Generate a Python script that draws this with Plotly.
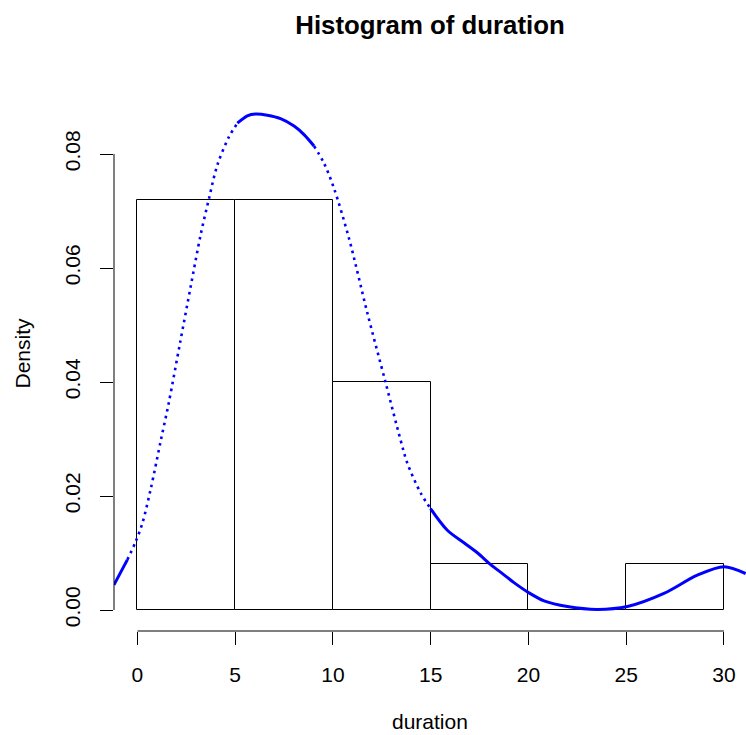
import plotly.graph_objects as go

# ---- data ----
bin_edges = [0, 5, 10, 15, 20, 25, 30]
bin_density = [0.072, 0.072, 0.040, 0.008, 0.0, 0.008]

curve_x = [-1.20, -0.52, -0.09, 0.25, 0.67, 1.18, 1.61, 2.17, 2.72, 3.23, 3.66, 4.09,
           4.68, 5.11, 5.62, 6.05, 6.64, 7.32, 8.01, 8.52, 9.03, 9.54, 10.05, 10.82,
           11.76, 12.70, 13.46, 13.80, 14.49, 14.99, 15.85, 16.70, 17.40, 18.05, 18.70,
           19.26, 20.03, 20.80, 21.99, 23.52, 25.06, 26.93, 28.64, 30.00, 31.11]
curve_y = [0.0044, 0.0088, 0.0120, 0.0152, 0.0211, 0.0295, 0.0365, 0.0467, 0.0567, 0.0658,
           0.0722, 0.0781, 0.0830, 0.0854, 0.0867, 0.0870, 0.0868, 0.0862, 0.0849, 0.0834,
           0.0814, 0.0784, 0.0740, 0.0652, 0.0521, 0.0398, 0.0298, 0.0258, 0.0205, 0.0178,
           0.0140, 0.0118, 0.0100, 0.0080, 0.0063, 0.0048, 0.0030, 0.0016, 0.0006, 0.0001,
           0.0006, 0.0029, 0.0061, 0.0076, 0.0064]

x_ticks = [0, 5, 10, 15, 20, 25, 30]
y_ticks = [0.00, 0.02, 0.04, 0.06, 0.08]
y_tick_labels = ["0.00", "0.02", "0.04", "0.06", "0.08"]

title_text = "Histogram of duration"
x_label = "duration"
y_label = "Density"

# ---- figure ----
W, H = 746, 735
ML, MR, MT, MB = 114, 0, 76, 104
FONT = "Liberation Sans, Arial, Helvetica, sans-serif"

mids = [(a + b) / 2 for a, b in zip(bin_edges[:-1], bin_edges[1:])]
widths = [b - a for a, b in zip(bin_edges[:-1], bin_edges[1:])]

fig = go.Figure()
fig.add_trace(go.Bar(
    x=mids, y=bin_density, width=widths,
    marker=dict(color="white", line=dict(color="black", width=1)),
    showlegend=False, hoverinfo="skip",
))

# curve: solid where flat, dotted where steep (as R's point-drawn density looks)
segments = [(-2, -0.52, "solid"), (-0.52, 5.11, "dot"), (5.11, 9.03, "solid"),
            (9.03, 14.99, "dot"), (14.99, 40, "solid")]
for lo, hi, style in segments:
    sx = [x for x in curve_x if lo <= x <= hi]
    sy = [y for x, y in zip(curve_x, curve_y) if lo <= x <= hi]
    fig.add_trace(go.Scatter(
        x=sx, y=sy, mode="lines",
        line=dict(color="#0000FF", width=3 if style == "solid" else 2.6,
                  shape="spline", smoothing=0.9,
                  dash="solid" if style == "solid" else "2.6px,4.4px"),
        showlegend=False, hoverinfo="skip",
    ))

# axis lines spanning the tick range only (R style)
fig.add_shape(type="line", xref="x", yref="paper", x0=x_ticks[0], x1=x_ticks[-1],
              y0=0, y1=0, line=dict(color="black", width=1))
fig.add_shape(type="line", xref="paper", yref="y", x0=0, x1=0,
              y0=y_ticks[0], y1=y_ticks[-1], line=dict(color="black", width=1))

px_per_y = 5700.0
zero_px = 610 - MT  # from top of plot area
plot_h = H - MT - MB
y_top = zero_px / px_per_y
y_bot = -(plot_h - zero_px) / px_per_y

fig.update_xaxes(range=[-1.2, -1.2 + (W - ML - MR) / 19.55], tickvals=x_ticks,
                 ticktext=[str(t) for t in x_ticks],
                 ticks="outside", ticklen=13, tickwidth=1, tickcolor="black",
                 ticklabelstandoff=12,
                 showline=False, showgrid=False, zeroline=False,
                 tickfont=dict(family=FONT, size=21, color="black"))
fig.update_yaxes(range=[y_bot, y_top], tickvals=y_ticks, ticktext=y_tick_labels,
                 ticks="outside", ticklen=13, tickwidth=1, tickcolor="black",
                 tickangle=-90, ticklabelstandoff=12,
                 showline=False, showgrid=False, zeroline=False,
                 tickfont=dict(family=FONT, size=21, color="black"))

fig.add_annotation(text=x_label, xref="paper", yref="paper", x=0.5,
                   y=(H - MB - 721) / plot_h, xanchor="center", yanchor="middle",
                   showarrow=False, font=dict(family=FONT, size=21, color="black"))
fig.add_annotation(text=y_label, xref="paper", yref="paper",
                   x=(22 - ML) / (W - ML - MR), y=0.5, textangle=-90,
                   xanchor="center", yanchor="middle",
                   showarrow=False, font=dict(family=FONT, size=21, color="black"))

fig.update_layout(
    width=W, height=H,
    margin=dict(l=ML, r=MR, t=MT, b=MB, pad=0),
    paper_bgcolor="white", plot_bgcolor="white",
    title=dict(text="<b>" + title_text + "</b>", x=(ML + (W - ML - MR) / 2) / W,
               xanchor="center", y=1 - 25 / H, yanchor="middle",
               font=dict(family=FONT, size=25.8, color="black")),
    bargap=0,
)

fig.write_html("out.html")
